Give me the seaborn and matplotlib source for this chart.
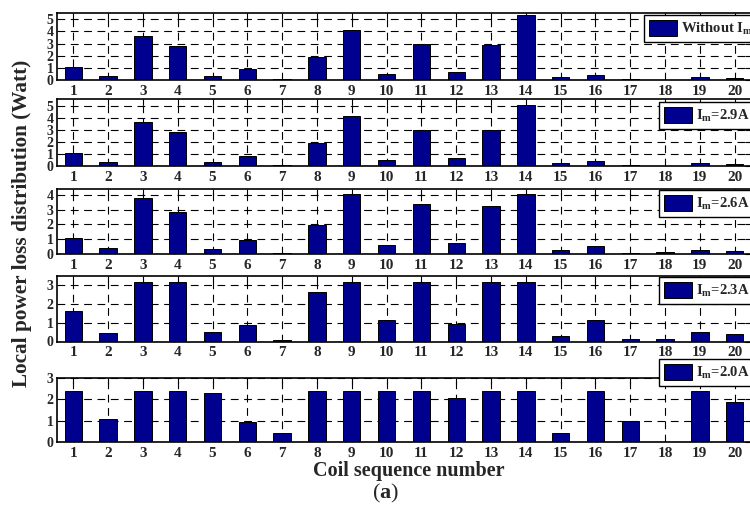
import numpy as np
import pandas as pd
import matplotlib
matplotlib.use("Agg")
import matplotlib.pyplot as plt
from matplotlib.patches import Patch
import seaborn as sns

# ---------------- data ----------------
coils = list(range(1, 21))
without_im = [1.04, 0.33, 3.63, 2.80, 0.33, 0.91, 0.05, 1.90, 4.12, 0.52,
              2.97, 0.66, 2.88, 5.36, 0.22, 0.44, 0.05, 0.03, 0.22, 0.16]
im_2_9 = [1.06, 0.31, 3.64, 2.81, 0.31, 0.86, 0.06, 1.94, 4.14, 0.47,
          3.03, 0.64, 2.97, 5.03, 0.22, 0.42, 0.06, 0.03, 0.22, 0.17]
im_2_6 = [1.05, 0.39, 3.78, 2.88, 0.32, 0.96, 0.07, 1.99, 4.05, 0.60,
          3.39, 0.73, 3.27, 4.05, 0.25, 0.53, 0.02, 0.09, 0.25, 0.18]
im_2_3 = [1.62, 0.46, 3.17, 3.17, 0.51, 0.88, 0.07, 2.61, 3.17, 1.15,
          3.17, 0.94, 3.17, 3.17, 0.28, 1.13, 0.13, 0.14, 0.48, 0.39]
im_2_0 = [2.40, 1.07, 2.40, 2.40, 2.27, 0.92, 0.41, 2.40, 2.40, 2.40,
          2.40, 2.06, 2.40, 2.40, 0.43, 2.40, 0.99, 0.02, 2.40, 1.85]
series_names = ["Without Im", "Im=2.9A", "Im=2.6A", "Im=2.3A", "Im=2.0A"]
legend_labels = [r"Without $\mathbf{I_m}$", r"$\mathbf{I_m}$=2.9A",
                 r"$\mathbf{I_m}$=2.6A", r"$\mathbf{I_m}$=2.3A",
                 r"$\mathbf{I_m}$=2.0A"]
series_values = [without_im, im_2_9, im_2_6, im_2_3, im_2_0]
y_tops = [5.55, 5.57, 4.4, 3.5, 3.0]
y_ticks = [[0, 1, 2, 3, 4, 5], [0, 1, 2, 3, 4, 5], [0, 1, 2, 3, 4],
           [0, 1, 2, 3], [0, 1, 2, 3]]

df = pd.DataFrame({
    "coil": np.tile(coils, len(series_names)),
    "loss": np.concatenate(series_values),
    "cond": np.repeat(series_names, len(coils)),
})

# ---------------- style ----------------
sns.set_style("white")
plt.rcParams["font.family"] = ["Liberation Serif", "DejaVu Serif"]
plt.rcParams["font.weight"] = "bold"
plt.rcParams["mathtext.fontset"] = "custom"
plt.rcParams["mathtext.rm"] = "Liberation Serif:bold"
plt.rcParams["mathtext.bf"] = "Liberation Serif:bold"
plt.rcParams["mathtext.it"] = "Liberation Serif:italic:bold"

navy = "#00008F"
W, H = 750, 512
fig = plt.figure(figsize=(7.5, 5.12), dpi=100)

# axes pixel extents (top, bottom)
panels_px = [(12.7, 80.0), (99.0, 166.0), (189.3, 253.7), (275.7, 341.5), (377.7, 442.3)]
legend_px = [(644, 15), (659, 101.7), (659, 190), (659, 276.7), (659, 359.3)]
left_px, right_px = 57, 751

for i, name in enumerate(series_names):
    top, bot = panels_px[i]
    ax = fig.add_axes([left_px / W, 1 - bot / H, (right_px - left_px) / W, (bot - top) / H])
    sub = df[df["cond"] == name]
    sns.barplot(data=sub, x="coil", y="loss", native_scale=True, color=navy,
                saturation=1, edgecolor="black", linewidth=0.7, width=0.5,
                errorbar=None, ax=ax)
    ax.set_xlim(0.53, 20.47)
    ax.set_ylim(0, y_tops[i])
    ax.set_xticks(coils)
    ax.set_xticklabels([str(c) for c in coils], fontsize=11, fontweight="bold")
    ax.set_yticks(y_ticks[i])
    ax.set_yticklabels([str(t) for t in y_ticks[i]], fontsize=10, fontweight="bold")
    ax.set_xlabel("")
    ax.set_ylabel("")
    ax.set_axisbelow(True)
    ax.grid(True, color="black", linewidth=0.8, linestyle=(0, (7, 5)))
    ax.tick_params(direction="in", top=True, right=True, length=4, width=0.8,
                   color="black", pad=2.5)
    ax.tick_params(axis="x", pad=3.5)
    for s in ax.spines.values():
        s.set_color("black")
        s.set_linewidth(1.2)
    lx, ly = legend_px[i]
    handle = Patch(facecolor=navy, edgecolor="black", linewidth=0.7)
    fig.legend(handles=[handle], labels=[legend_labels[i]], loc="upper left",
               bbox_to_anchor=(lx / W, 1 - ly / H), bbox_transform=fig.transFigure,
               borderaxespad=0, fancybox=False, framealpha=1, edgecolor="black",
               handlelength=1.9, handleheight=1.3, handletextpad=0.3,
               borderpad=0.35, prop={"family": "Liberation Serif", "weight": "bold", "size": 10.5})

fig.text(22 / W, 1 - 223 / H, "Local power loss distribution (Watt)", rotation=90,
         ha="center", va="center", fontsize=15.3, fontweight="bold")
fig.text(409 / W, 1 - 476 / H, "Coil sequence number", ha="center", va="baseline",
         fontsize=14.5, fontweight="bold")
fig.text(386 / W, 1 - 493 / H, r"($\mathbf{a}$)", ha="center", va="center",
         fontsize=16, fontweight="normal")

fig.savefig("out.png", dpi=100)
